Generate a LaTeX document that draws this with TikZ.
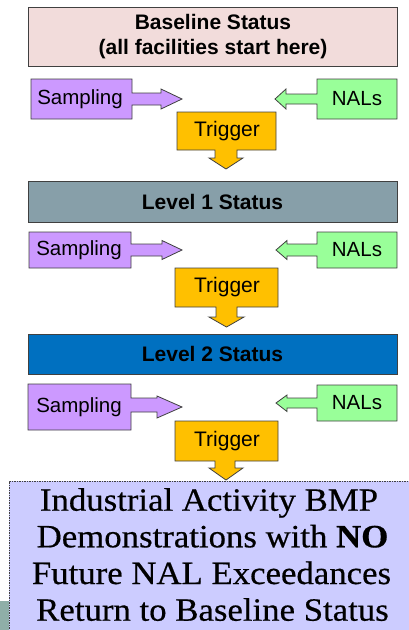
\documentclass[tikz,border=0pt]{standalone}
\usepackage{fontspec}
\setmainfont{Liberation Serif}
\newfontfamily\arialf{Liberation Sans}
\newfontfamily\finf[FakeStretch=1.07,FakeBold=0.5,BoldFeatures={FakeBold=0.5}]{Liberation Serif}
\definecolor{edgec}{HTML}{404040}
\definecolor{basec}{HTML}{F2DCDB}
\definecolor{sampc}{HTML}{CC99FF}
\definecolor{nalc}{HTML}{99FF99}
\definecolor{trigc}{HTML}{FFC000}
\definecolor{lvlonec}{HTML}{879FA9}
\definecolor{lvltwoc}{HTML}{0070C0}
\definecolor{finalc}{HTML}{CCCCFF}
\definecolor{tealc}{HTML}{8FAFA8}
\begin{document}
\begin{tikzpicture}[x=1pt,y=-1pt,line join=miter,
  shp/.style={draw=edgec,line width=0.8pt},
  statbox/.style={draw=edgec,line width=0.8pt,minimum width=369,inner sep=0,align=center,
    font=\arialf\bfseries\fontsize{21}{25}\selectfont},
  lbl/.style={inner sep=0,font=\arialf\fontsize{20.5}{24}\selectfont},
  trg/.style={inner sep=0,font=\arialf\fontsize{21}{24}\selectfont},
  fin/.style={inner sep=0,anchor=base,font=\finf\fontsize{32.5}{36}\selectfont}]
\useasboundingbox (0,0) rectangle (408,630);

% bottom-left stripe and final box
\fill[tealc] (0,601) rectangle (9,630);
\node[draw=edgec,line width=0.6pt,dash pattern=on 1.5pt off 1pt,fill=finalc,
  minimum width=403,minimum height=153,anchor=north west,inner sep=0] (final) at (9,481) {};
\node[fin] (l1) at (209,510.7) {Industrial Activity BMP};
\node[fin] (l2) at (212.5,547.3) {Demonstrations with \textbf{NO}};
\node[fin] (l3) at (211.5,584) {Future NAL Exceedances};
\node[fin] (l4) at (212.5,620.7) {Return to Baseline Status};

% status boxes
\node[statbox,fill=basec,minimum height=59] (base) at (213,36.5) {Baseline Status\\(all facilities start here)};
\node[statbox,fill=lvlonec,minimum height=41] (lvl1) at (212.5,201.5) {Level 1 Status};
\node[statbox,fill=lvltwoc,minimum height=40] (lvl2) at (212.5,354) {Level 2 Status};

% ---- set 1
\draw[shp,fill=sampc] (31,79) -- (132,79) -- (132,93) -- (161,93) -- (161,89) -- (182,99)
  -- (161,109) -- (161,105) -- (132,105) -- (132,119) -- (31,119) -- cycle;
\node[lbl] (samp1) at (80,99) {Sampling};
\draw[shp,fill=nalc] (397,79) -- (317,79) -- (317,94) -- (286,94) -- (286,89) -- (275,99)
  -- (286,109) -- (286,104) -- (317,104) -- (317,119) -- (397,119) -- cycle;
\node[lbl] (nal1) at (357,99) {NALs};
\draw[shp,fill=trigc] (177,112) -- (276,112) -- (276,150) -- (237,150) -- (237,158) -- (243,158)
  -- (226,169) -- (209,158) -- (215,158) -- (215,150) -- (177,150) -- cycle;
\node[trg] (trig1) at (227,131) {Trigger};

% ---- set 2
\draw[shp,fill=sampc] (29,232) -- (131,232) -- (131,244) -- (162,244) -- (162,240.5) -- (182,250)
  -- (162,259.5) -- (162,256) -- (131,256) -- (131,268) -- (29,268) -- cycle;
\node[lbl] (samp2) at (79,250) {Sampling};
\draw[shp,fill=nalc] (397,232) -- (317,232) -- (317,244) -- (287,244) -- (287,240.5) -- (276,250)
  -- (287,259.5) -- (287,256) -- (317,256) -- (317,268) -- (397,268) -- cycle;
\node[lbl] (nal2) at (357,250) {NALs};
\draw[shp,fill=trigc] (175,268) -- (278,268) -- (278,307) -- (237,307) -- (237,317) -- (244,317)
  -- (226.5,327) -- (209,317) -- (216,317) -- (216,307) -- (175,307) -- cycle;
\node[trg] (trig2) at (227,287.5) {Trigger};

% ---- set 3
\draw[shp,fill=sampc] (28,384) -- (131,384) -- (131,398) -- (157,398) -- (157,396) -- (182,407)
  -- (157,418) -- (157,412) -- (131,412) -- (131,430) -- (28,430) -- cycle;
\node[lbl] (samp3) at (79,407) {Sampling};
\draw[shp,fill=nalc] (397,385) -- (317,385) -- (317,398) -- (287,398) -- (287,395) -- (276,403)
  -- (287,411.5) -- (287,408) -- (317,408) -- (317,421) -- (397,421) -- cycle;
\node[lbl] (nal3) at (357,403) {NALs};
\draw[shp,fill=trigc] (175,421) -- (278,421) -- (278,461) -- (235,461) -- (235,468) -- (243,468)
  -- (226,480) -- (209,468) -- (215,468) -- (215,461) -- (175,461) -- cycle;
\node[trg] (trig3) at (227,441) {Trigger};
\end{tikzpicture}
\end{document}
